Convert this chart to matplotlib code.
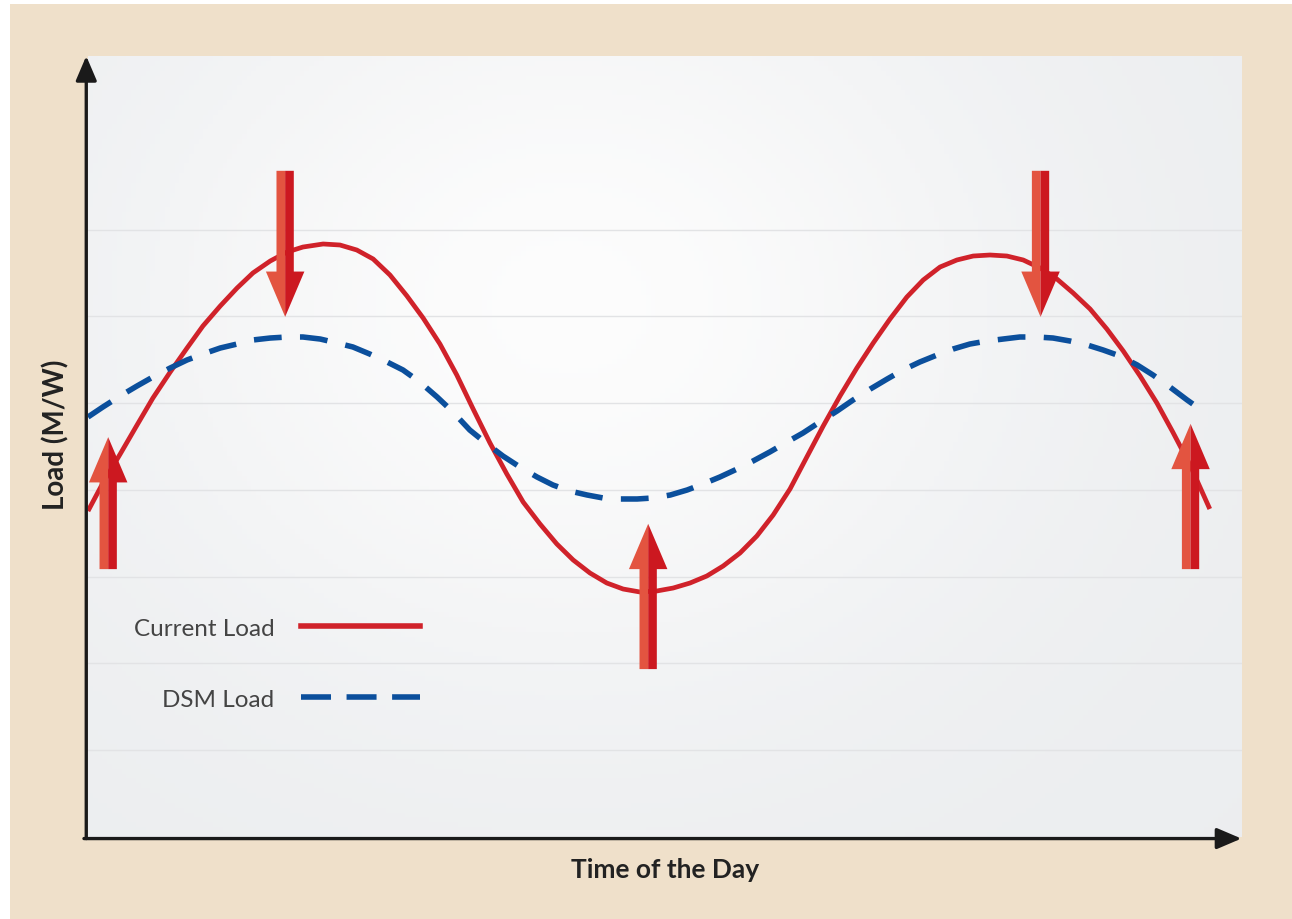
import numpy as np
import matplotlib
matplotlib.use("Agg")
import matplotlib.pyplot as plt
from matplotlib.patches import Polygon, Rectangle
from matplotlib.lines import Line2D

plt.rcParams['font.family'] = ['Lato', 'DejaVu Sans']

# ---- data (time in hours, load in % of axis) ----
current_t = [0.0, 0.31, 0.67, 1.02, 1.35, 1.71, 2.06, 2.39, 2.75, 3.10, 3.43,
             3.79, 4.14, 4.47, 4.89, 5.24, 5.59, 5.93, 6.28, 6.63, 6.97,
             7.32, 7.67, 8.01, 8.36, 8.71, 9.05, 9.40, 9.75, 10.09, 10.44,
             10.79, 11.13, 11.48, 11.83, 12.17, 12.52, 12.87, 13.21, 13.56,
             13.91, 14.25, 14.60, 14.95, 15.29, 15.64, 15.99, 16.33, 16.68,
             17.03, 17.37, 17.72, 18.07, 18.41, 18.76, 19.11, 19.45, 19.80,
             20.15, 20.49, 20.84, 21.19, 21.53, 21.88, 22.23, 22.56, 22.92,
             23.33]
current_load = [41.74, 45.33, 49.04, 52.75, 56.21, 59.54, 62.61, 65.43, 67.99,
                70.29, 72.22, 73.75, 74.90, 75.54, 75.93, 75.80, 75.16, 74.01,
                71.96, 69.30, 66.45, 63.12, 59.15, 54.80, 50.45, 46.48, 42.89,
                40.08, 37.52, 35.47, 33.80, 32.52, 31.75, 31.37, 31.50, 31.88,
                32.52, 33.42, 34.70, 36.36, 38.54, 41.23, 44.56, 48.66, 52.62,
                56.47, 60.05, 63.25, 66.33, 69.14, 71.32, 72.98, 73.88, 74.39,
                74.52, 74.39, 73.88, 72.86, 71.45, 69.65, 67.61, 65.04, 62.23,
                59.03, 55.57, 51.86, 47.63, 42.00]

dsm_t = [0.0, 0.31, 0.67, 1.02, 1.35, 1.71, 2.06, 2.39, 2.75, 3.10, 3.43,
         3.79, 4.14, 4.47, 4.83, 5.18, 5.51, 5.86, 6.22, 6.55, 6.90, 7.26,
         7.59, 7.94, 8.30, 8.63, 8.98, 9.34, 9.67, 10.02, 10.38, 10.71, 11.06,
         11.42, 11.75, 12.11, 12.46, 12.79, 13.14, 13.50, 13.83, 14.18, 14.54,
         14.87, 15.22, 15.58, 15.91, 16.27, 16.62, 16.95, 17.30, 17.66, 17.99,
         18.34, 18.70, 19.03, 19.38, 19.74, 20.07, 20.42, 20.78, 21.11, 21.46,
         21.82, 22.15, 22.50, 22.86, 23.27]
dsm_load = [53.78, 55.06, 56.47, 57.75, 58.90, 60.05, 61.08, 61.84, 62.61,
            63.12, 63.64, 63.89, 64.02, 64.02, 63.76, 63.25, 62.74, 61.84,
            60.82, 59.80, 58.26, 56.34, 54.42, 52.11, 50.32, 48.78, 47.38,
            46.09, 45.07, 44.30, 43.79, 43.41, 43.28, 43.28, 43.41, 43.79,
            44.43, 45.20, 46.09, 47.12, 48.14, 49.30, 50.58, 51.73, 53.14,
            54.55, 55.95, 57.36, 58.64, 59.80, 60.82, 61.72, 62.48, 63.12,
            63.51, 63.76, 64.02, 64.02, 63.89, 63.51, 63.00, 62.36, 61.59,
            60.44, 59.15, 57.62, 55.95, 54.16]

# shift arrows: (time, from load, to load)
arrow_t = [0.42, 4.10, 11.65, 19.81, 22.93]
arrow_from = [34.3, 85.3, 21.5, 85.3, 34.3]
arrow_to = [51.2, 66.6, 40.1, 66.6, 52.9]

grid_levels = [100 / 9 * k for k in range(1, 8)]

RED = '#d0222a'
BLUE = '#0b4f9c'
BEIGE = '#efe0ca'

W, H = 1292, 920
fig = plt.figure(figsize=(W / 100, H / 100), dpi=100, facecolor='white')
fig.patches.append(Rectangle((10 / W, 0), 1 - 10 / W, 1 - 5 / H,
                             transform=fig.transFigure, facecolor=BEIGE,
                             edgecolor='none', zorder=-10))

x0, x1, y0, y1 = 88, 1242, 57, 838
ax = fig.add_axes([x0 / W, 1 - y1 / H, (x1 - x0) / W, (y1 - y0) / H])
ax.set_xlim(0, 24)
ax.set_ylim(0, 100)
for s in ax.spines.values():
    s.set_visible(False)

# soft glow background
gx, gy = np.meshgrid(np.linspace(0, 24, 240), np.linspace(0, 100, 160))
glow = np.exp(-(((gx - 10.0) / 9.5) ** 2 + ((gy - 68) / 50.0) ** 2))
base = np.array([0.925, 0.932, 0.940])
top = np.array([0.99, 0.99, 0.99])
img = base[None, None, :] + (top - base)[None, None, :] * glow[..., None]
ax.imshow(img, extent=(0, 24, 0, 100), origin='lower', aspect='auto', zorder=0)

ax.set_xticks([])
ax.set_yticks(grid_levels)
ax.tick_params(length=0, labelleft=False)
ax.grid(axis='y', color='#e2e3e5', lw=1.0, zorder=1)

ax.plot(current_t, current_load, color=RED, lw=3.4, zorder=3,
        solid_capstyle='butt', solid_joinstyle='round', label='Current Load')
ax.plot(dsm_t, dsm_load, color=BLUE, lw=4.0, zorder=3,
        dashes=(5.0, 3.3), dash_capstyle='butt', label='DSM Load')

# two-tone block arrows
SHAFT = 0.36
HEAD_W = 0.80
HEAD_L = 5.8
for t, a, b in zip(arrow_t, arrow_from, arrow_to):
    d = 1 if b > a else -1
    hb = b - d * HEAD_L
    for side, col in ((-1, '#e35440'), (1, '#cc1820')):
        pts = [(t, a), (t + side * SHAFT / 2, a), (t + side * SHAFT / 2, hb),
               (t + side * HEAD_W / 2, hb), (t, b)]
        ax.add_patch(Polygon(pts, closed=True, facecolor=col,
                             edgecolor='none', zorder=5))

# axis lines with arrow heads
ap = dict(arrowstyle='-|>,head_length=0.75,head_width=0.32', lw=2.4,
          color='#1a1a1a', mutation_scale=20, shrinkA=0, shrinkB=0)
ax.annotate('', xy=(-0.0015, 1.0), xytext=(-0.0015, -0.002),
            xycoords='axes fraction', arrowprops=ap, annotation_clip=False)
ax.annotate('', xy=(0.9995, -0.002), xytext=(-0.0035, -0.002),
            xycoords='axes fraction', arrowprops=ap, annotation_clip=False)

ax.set_xlabel('Time of the Day', fontsize=19, fontweight='bold',
              color='#222222')
ax.xaxis.set_label_coords(0.5, -0.026)
ax.set_ylabel('Load (M/W)', fontsize=20, fontweight='bold', color='#222222')
ax.yaxis.set_label_coords(-0.016, 0.516)

handles = [Line2D([], [], color=RED, lw=4.0),
           Line2D([], [], color=BLUE, lw=4.0, dashes=(5.4, 2.8))]
leg = ax.legend(handles, ['Current Load', 'DSM Load'], loc='upper left',
                bbox_to_anchor=(0.029, 0.296), frameon=False,
                markerfirst=False, fontsize=17.5, handlelength=4.9,
                handletextpad=1.1, labelspacing=2.05, borderpad=0)
for txt in leg.get_texts():
    txt.set_color('#444444')

fig.savefig('out.png', dpi=100, facecolor=fig.get_facecolor())
